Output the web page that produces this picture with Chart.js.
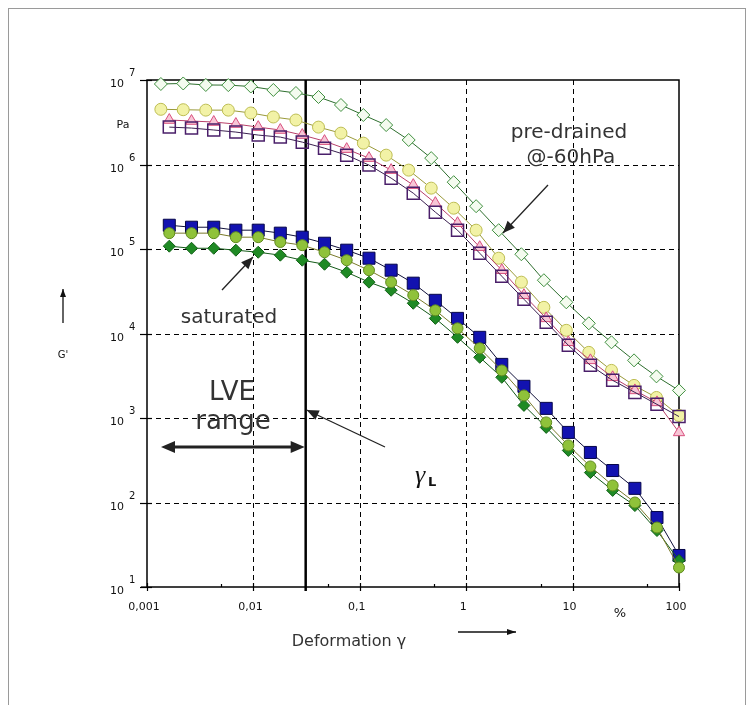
<!DOCTYPE html>
<html>
<head>
<meta charset="utf-8">
<script src="https://cdn.jsdelivr.net/npm/chart.js@4.4.0/dist/chart.umd.min.js"></script>
<style>
  html, body { margin: 0; padding: 0; background: #fff; }
</style>
</head>
<body>
<canvas id="chart" width="755" height="705"></canvas>
<script>
// strain (%)
const strainPre = [0.00135, 0.00219, 0.00357, 0.00581, 0.00946, 0.0154, 0.0251, 0.0409, 0.0665, 0.108, 0.177, 0.288,
  0.469, 0.763, 1.24, 2.02, 3.30, 5.37, 8.73, 14.2, 23.2, 37.8, 61.4, 100]
const strainSat = [0.00162, 0.00262, 0.00424, 0.00684, 0.0111, 0.0179, 0.0288, 0.0466, 0.0753, 0.122, 0.197, 0.318,
  0.513, 0.829, 1.34, 2.16, 3.49, 5.65, 9.12, 14.7, 23.8, 38.5, 62.1, 100]

// G' (Pa), pre-drained @-60hPa samples (open symbols)
const preDiamond = [8.97e6, 9.1e6, 8.73e6, 8.7e6, 8.38e6, 7.62e6, 7.02e6, 6.29e6, 5.06e6, 3.85e6, 2.93e6, 1.95e6,
  1.19e6, 6.18e5, 3.21e5, 1.67e5, 8.67e4, 4.27e4, 2.34e4, 1.32e4, 7.87e3, 4.81e3, 3.11e3, 2.12e3]
const preCircle = [4.5e6, 4.45e6, 4.4e6, 4.4e6, 4.07e6, 3.65e6, 3.36e6, 2.77e6, 2.35e6, 1.79e6, 1.29e6, 8.58e5,
  5.25e5, 3.04e5, 1.67e5, 7.78e4, 4.05e4, 2.04e4, 1.09e4, 5.98e3, 3.66e3, 2.43e3, 1.75e3, 1.07e3]
const preTriangle = [3.36e6, 3.27e6, 3.18e6, 3.01e6, 2.77e6, 2.56e6, 2.23e6, 1.89e6, 1.52e6, 1.19e6, 8.58e5, 5.70e5,
  3.49e5, 2.02e5, 1.05e5, 5.61e4, 2.84e4, 1.51e4, 7.87e3, 4.81e3, 3.03e3, 2.12e3, 1.53e3, 675]
const preSquare = [2.77e6, 2.70e6, 2.56e6, 2.42e6, 2.23e6, 2.11e6, 1.84e6, 1.56e6, 1.29e6, 9.84e5, 6.90e5, 4.58e5,
  2.73e5, 1.67e5, 8.91e4, 4.76e4, 2.54e4, 1.36e4, 7.25e3, 4.20e3, 2.79e3, 2.01e3, 1.45e3, 1.04e3]

// G' (Pa), saturated samples (filled symbols)
const satSquare = [1.91e5, 1.81e5, 1.81e5, 1.67e5, 1.67e5, 1.54e5, 1.38e5, 1.17e5, 9.68e4, 7.78e4, 5.61e4, 3.94e4,
  2.47e4, 1.51e4, 9.01e3, 4.31e3, 2.37e3, 1.30e3, 675, 391, 239, 147, 66.4, 23.6]
const satCircle = [1.54e5, 1.54e5, 1.54e5, 1.38e5, 1.38e5, 1.21e5, 1.11e5, 9.16e4, 7.37e4, 5.61e4, 4.05e4, 2.84e4,
  1.88e4, 1.15e4, 6.68e3, 3.66e3, 1.85e3, 887, 474, 267, 159, 100, 50.6, 17]
const satDiamond = [1.08e5, 1.02e5, 1.02e5, 9.68e4, 9.16e4, 8.45e4, 7.37e4, 6.60e4, 5.31e4, 4.05e4, 3.25e4, 2.28e4,
  1.51e4, 9.01e3, 5.23e3, 3.03e3, 1.41e3, 774, 413, 226, 139, 92, 46.6, 20.6]

const xTicks = [0.001, 0.01, 0.1, 1, 10, 100]
const xTickLabels = ['0,001', '0,01', '0,1', '1', '10', '100']
const xMinorTicks = [0.005, 0.05, 0.5, 5, 50]
const yTicks = [1e1, 1e2, 1e3, 1e4, 1e5, 1e6, 1e7]
const yTickExps = ['1', '2', '3', '4', '5', '6', '7']
const gammaL = 0.031

const pts = (xs, ys) => xs.map((x, i) => ({ x, y: ys[i] }))

const series = (xs, ys, style, radius, fill, border, line, width) => ({
  data: pts(xs, ys),
  showLine: true,
  pointStyle: style,
  pointRadius: radius,
  pointBackgroundColor: fill,
  pointBorderColor: border,
  pointBorderWidth: width || 1,
  borderColor: line,
  borderWidth: 1,
  clip: false
})

function line (ctx, x1, y1, x2, y2) {
  ctx.beginPath()
  ctx.moveTo(x1, y1)
  ctx.lineTo(x2, y2)
  ctx.stroke()
}

function arrowHead (ctx, x1, y1, x2, y2, len, half) {
  const ang = Math.atan2(y2 - y1, x2 - x1)
  ctx.beginPath()
  ctx.moveTo(x2, y2)
  ctx.lineTo(x2 - len * Math.cos(ang) + half * Math.sin(ang), y2 - len * Math.sin(ang) - half * Math.cos(ang))
  ctx.lineTo(x2 - len * Math.cos(ang) - half * Math.sin(ang), y2 - len * Math.sin(ang) + half * Math.cos(ang))
  ctx.closePath()
  ctx.fill()
}

function arrow (ctx, x1, y1, x2, y2, len, half) {
  line(ctx, x1, y1, x2, y2)
  arrowHead(ctx, x1, y1, x2, y2, len, half)
}

const overlay = {
  id: 'overlay',
  beforeDatasetsDraw (chart) {
    const { ctx, chartArea: a, scales: { x, y } } = chart
    ctx.save()
    ctx.strokeStyle = '#000'
    ctx.lineWidth = 1
    ctx.setLineDash([5, 4])
    xTicks.slice(1, -1).forEach(v => {
      const px = Math.round(x.getPixelForValue(v)) + 0.5
      line(ctx, px, a.top, px, a.bottom)
    })
    yTicks.slice(1, -1).forEach(v => {
      const py = Math.round(y.getPixelForValue(v)) + 0.5
      line(ctx, a.left, py, a.right, py)
    })
    ctx.setLineDash([])
    ctx.lineWidth = 1.5
    ctx.strokeRect(a.left, a.top, a.right - a.left, a.bottom - a.top)
    ctx.lineWidth = 1.2
    yTicks.forEach(v => {
      const py = Math.round(y.getPixelForValue(v)) + 0.5
      line(ctx, a.left - 7, py, a.left + 5, py)
    })
    xTicks.forEach(v => {
      const px = Math.round(x.getPixelForValue(v)) + 0.5
      line(ctx, px, a.bottom - 4, px, a.bottom + 4)
    })
    line(ctx, a.left - 6, a.bottom, a.left, a.bottom)
    xMinorTicks.forEach(v => {
      const px = Math.round(x.getPixelForValue(v)) + 0.5
      line(ctx, px, a.bottom - 3, px, a.bottom)
    })
    // gamma_L limit of the linear viscoelastic range
    const gx = x.getPixelForValue(gammaL)
    ctx.lineWidth = 2.5
    line(ctx, gx, a.top, gx, a.bottom + 4)
    ctx.restore()
  },
  afterDraw (chart) {
    const { ctx, scales: { x, y } } = chart
    ctx.save()
    // outer frame
    ctx.strokeStyle = '#9a9a9a'
    ctx.lineWidth = 1
    ctx.strokeRect(8.5, 8.5, 737, 720)

    // tick labels
    ctx.fillStyle = '#111'
    ctx.textBaseline = 'alphabetic'
    yTicks.forEach((v, i) => {
      const py = y.getPixelForValue(v)
      ctx.font = '11px "DejaVu Sans"'
      ctx.textAlign = 'right'
      ctx.fillText('10', 124, py + 7)
      ctx.font = '10px "DejaVu Sans"'
      ctx.textAlign = 'left'
      ctx.fillText(yTickExps[i], 129, py - 4)
    })
    ctx.font = '11px "DejaVu Sans"'
    ctx.textAlign = 'center'
    xTicks.forEach((v, i) => {
      const px = x.getPixelForValue(v)
      ctx.fillText(xTickLabels[i], px - 3, 610)
    })
    ctx.font = '13px "DejaVu Sans"'
    ctx.fillText('%', 620, 617)
    ctx.font = '11px "DejaVu Sans"'
    ctx.fillText('Pa', 123, 128)
    ctx.font = '10px "DejaVu Sans"'
    ctx.fillText("G'", 63, 358)

    // axis arrows
    ctx.strokeStyle = '#111'
    ctx.lineWidth = 1.3
    arrow(ctx, 63, 323, 63, 289, 8, 3)
    arrow(ctx, 458, 632, 516, 632, 9, 3)

    ctx.fillStyle = '#333'
    ctx.font = '16px "DejaVu Sans"'
    ctx.fillText('Deformation \u03b3', 349, 646)

    // annotations
    ctx.font = '20px "DejaVu Sans"'
    ctx.fillText('pre-drained', 569, 138)
    ctx.fillText('@-60hPa', 571, 163)
    ctx.fillText('saturated', 229, 323)
    ctx.font = '26px "DejaVu Sans"'
    ctx.fillText('LVE', 232, 400)
    ctx.fillText('range', 233, 429)

    ctx.strokeStyle = '#222'
    ctx.fillStyle = '#222'
    ctx.lineWidth = 1.3
    arrow(ctx, 548, 185, 503, 233, 12, 5)
    arrow(ctx, 222, 290, 253, 257, 12, 5)
    const gx = x.getPixelForValue(gammaL)
    arrow(ctx, 385, 447, gx + 1, 410, 12, 5)
    ctx.lineWidth = 3
    line(ctx, 172, 447, gx - 10, 447)
    arrowHead(ctx, gx - 20, 447, gx - 1, 447, 14, 6)
    arrowHead(ctx, 180, 447, 161, 447, 14, 6)

    ctx.fillStyle = '#111'
    ctx.textAlign = 'left'
    ctx.font = 'italic 26px "Liberation Serif"'
    ctx.fillText('\u03b3', 415, 483)
    ctx.font = 'bold 13px "DejaVu Sans"'
    ctx.fillText('L', 428, 486)
    ctx.restore()
  }
}

new Chart(document.getElementById('chart'), {
  type: 'scatter',
  data: {
    datasets: [
      series(strainSat, satCircle, 'circle', 5.5, '#8fc23a', '#5f8a1e', '#7a7a2a'),
      series(strainSat, satDiamond, 'rectRot', 6, '#1f8a24', '#116016', '#145a18'),
      series(strainSat, satSquare, 'rect', 8.5, '#1212b0', '#06064a', '#10103a'),
      series(strainSat, preSquare, 'rect', 8.5, 'rgba(255,255,255,0)', '#4a1f6a', '#3a2050', 1.5),
      series(strainSat, preTriangle, 'triangle', 6.5, '#f7c6d6', '#d9507e', '#b8406a'),
      series(strainPre, preCircle, 'circle', 6, '#f2f2a6', '#bdbd52', '#9a9a3a'),
      series(strainPre, preDiamond, 'rectRot', 6.5, '#f4fbef', '#3f8f3f', '#2e6e2e')
    ]
  },
  options: {
    responsive: false,
    animation: false,
    layout: { padding: { left: 147, top: 80, right: 76, bottom: 118 } },
    plugins: { legend: { display: false }, tooltip: { enabled: false } },
    scales: {
      x: {
        type: 'logarithmic',
        min: 0.001,
        max: 100,
        afterBuildTicks: (s) => { s.ticks = xTicks.map(v => ({ value: v })) },
        afterFit: (s) => { s.height = 0 },
        ticks: { display: false },
        grid: { display: false },
        border: { display: false }
      },
      y: {
        type: 'logarithmic',
        min: 10,
        max: 1e7,
        afterBuildTicks: (s) => { s.ticks = yTicks.map(v => ({ value: v })) },
        afterFit: (s) => { s.width = 0 },
        ticks: { display: false },
        grid: { display: false },
        border: { display: false }
      }
    }
  },
  plugins: [overlay]
})
</script>
</body>
</html>
